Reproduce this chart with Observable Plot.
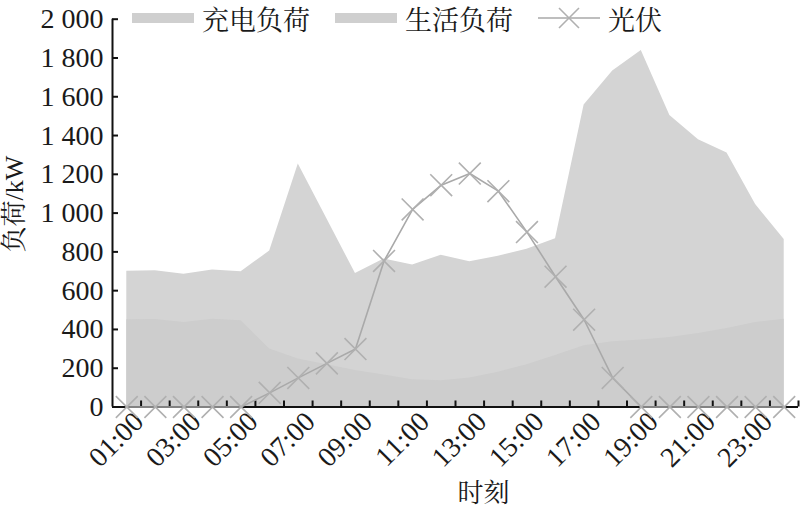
<!DOCTYPE html>
<html><head><meta charset="utf-8">
<script src="https://cdn.jsdelivr.net/npm/d3@7"></script>
<script src="https://cdn.jsdelivr.net/npm/@observablehq/plot@0.6"></script>
<style>
body{margin:0;background:#fff}
#wrap{position:relative;width:800px;height:510px}
#legend{position:absolute;left:132px;top:2px;height:32px;display:flex;align-items:center;font-family:'Liberation Serif','Noto Serif CJK SC',serif;font-size:27px;color:#1a1a1a;white-space:nowrap}
.sw{width:62px;height:10px;background:#cfcfcf;margin-right:8px}
.lab{margin-right:25px}
svg text{font-family:'Liberation Serif','Noto Serif CJK SC',serif}
</style></head><body>
<div id="wrap"><div id="legend"></div></div>
<script>
const hours = [1,2,3,4,5,6,7,8,9,10,11,12,13,14,15,16,17,18,19,20,21,22,23,24];
const chargeLoad = [700,703,685,707,698,804,1253,971,688,763,732,782,749,778,813,868,1558,1733,1838,1503,1378,1310,1044,864];
const lifeLoad = [450,451,436,453,445,299,248,218,188,165,140,136,150,179,218,265,316,337,345,359,379,405,436,453];
const pv = [0,0,0,0,0,73,150,225,299,753,1019,1144,1204,1113,902,672,450,150,0,0,0,0,0,0];
const xLabelHours = [1,3,5,7,9,11,13,15,17,19,21,23];
const xLabels = ["01:00","03:00","05:00","07:00","09:00","11:00","13:00","15:00","17:00","19:00","21:00","23:00"];
const yTicks = [0,200,400,600,800,1000,1200,1400,1600,1800,2000];
const seriesNames = ["充电负荷","生活负荷","光伏"];

const data = hours.map((h,i)=>({hour:h, charge:chargeLoad[i], life:lifeLoad[i], pv:pv[i]}));
const boundaries = hours.map(h=>h+0.5);
const fmtY = d => d3.format(",")(d).replace(/,/g," ");

const chart = Plot.plot({
  width: 800, height: 510,
  marginLeft: 112, marginRight: 2, marginTop: 18.7, marginBottom: 103.5,
  style: {fontSize: "28px", color: "#1a1a1a", background: "#fff"},
  x: {type: "linear", domain: [0.5, 24.5]},
  y: {domain: [0, 2000]},
  marks: [
    Plot.areaY(data, {x: "hour", y: "charge", fill: "#d4d4d4"}),
    Plot.areaY(data, {x: "hour", y: "life", fill: "#cdcdcd"}),
    Plot.ruleY([0], {stroke: "#111", strokeWidth: 2}),
    Plot.ruleX([0.5], {stroke: "#111", strokeWidth: 2}),
    Plot.ruleX(boundaries, {x: d=>d, y1: 0, y2: 31, stroke: "#111", strokeWidth: 2}),
    Plot.ruleY(yTicks, {y: d=>d, x1: 0.5, x2: 0.71, stroke: "#111", strokeWidth: 2}),
    Plot.axisY({ticks: yTicks, tickSize: 0, tickPadding: 9, tickFormat: fmtY, fontSize: 28, label: null}),
    Plot.axisX({ticks: xLabelHours, tickSize: 0, tickRotate: -45, tickPadding: 6, dx: 12, dy: 4, tickFormat: h => xLabels[xLabelHours.indexOf(h)], fontSize: 28, label: null}),
    Plot.line(data, {x: "hour", y: "pv", stroke: "#a9a9a9", strokeWidth: 1.6}),
    Plot.dot(data, {x: "hour", y: "pv", symbol: "times", r: 10, stroke: "#b0b0b0", strokeWidth: 1.6}),
    Plot.text(["时刻"], {frameAnchor: "bottom", lineAnchor: "middle", dx: 28, dy: 87, fontSize: 26, fill: "#1a1a1a"}),
    Plot.text(["负荷/kW"], {frameAnchor: "left", textAnchor: "middle", lineAnchor: "middle", rotate: -90, dx: -98, dy: -9, fontSize: 26, fill: "#1a1a1a"})
  ]
});
document.getElementById("wrap").prepend(chart);

const legend = document.getElementById("legend");
seriesNames.forEach((name, i) => {
  let sw;
  if (i < 2) {
    sw = document.createElement("div");
    sw.className = "sw";
  } else {
    sw = document.createElementNS("http://www.w3.org/2000/svg","svg");
    sw.setAttribute("width", 62); sw.setAttribute("height", 24);
    sw.style.marginRight = "8px";
    sw.innerHTML = '<line x1="0" y1="12" x2="62" y2="12" stroke="#a9a9a9" stroke-width="1.6"/>' +
      '<path d="M21,2L41,22M41,2L21,22" stroke="#b0b0b0" stroke-width="1.6"/>';
  }
  const t = document.createElement("span");
  t.className = "lab"; t.textContent = name;
  legend.append(sw, t);
});
chart.style.position = "absolute"; chart.style.left = "0"; chart.style.top = "0";
</script>
</body></html>
